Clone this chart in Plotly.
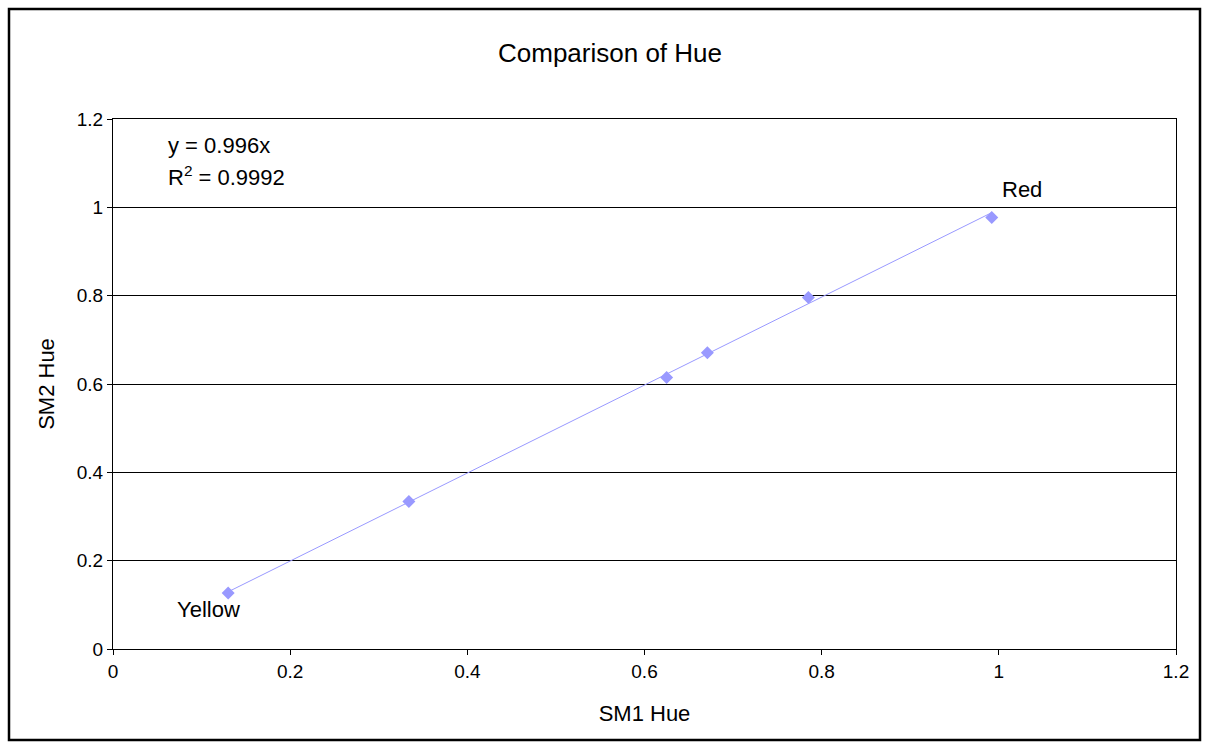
import plotly.graph_objects as go

# SM1 vs SM2 hue measurements
sm1_hue = [0.130, 0.334, 0.625, 0.671, 0.785, 0.992]
sm2_hue = [0.127, 0.334, 0.615, 0.671, 0.796, 0.977]
point_names = ["Yellow", "", "", "", "", "Red"]

# linear fit through the origin
slope = 0.996
r_squared = 0.9992

tick_vals = [0, 0.2, 0.4, 0.6, 0.8, 1, 1.2]
tick_text = ["0", "0.2", "0.4", "0.6", "0.8", "1", "1.2"]

FONT = "Liberation Sans, Arial, sans-serif"
SERIES = "#9999FF"

W, H = 1210, 749
L, R, T, B = 113, 34, 119, 100
PW, PH = W - L - R, H - T - B


def px_x(px):
    return (px - L) / PW


def px_y(py):
    return (H - B - py) / PH


fig = go.Figure()

# trendline over the data range
x0, x1 = min(sm1_hue), max(sm1_hue)
fig.add_trace(go.Scatter(
    x=[x0, x1], y=[slope * x0, slope * x1], mode="lines",
    line=dict(color=SERIES, width=1), hoverinfo="skip", showlegend=False,
))

fig.add_trace(go.Scatter(
    x=sm1_hue, y=sm2_hue, mode="markers",
    marker=dict(symbol="diamond", size=10, color=SERIES, line=dict(width=0)),
    showlegend=False,
))

# point labels, shifted off their markers
label_offsets = {"Yellow": (-20, -17), "Red": (30, 28)}
for xv, yv, name in zip(sm1_hue, sm2_hue, point_names):
    if not name:
        continue
    dx, dy = label_offsets[name]
    fig.add_annotation(x=xv, y=yv, text=name, showarrow=False,
                       xanchor="center", yanchor="middle", xshift=dx, yshift=dy,
                       font=dict(family=FONT, size=22, color="black"))

# fit equation
fig.add_annotation(xref="paper", yref="paper", x=px_x(166), y=px_y(145),
                   xanchor="left", yanchor="middle", showarrow=False,
                   text=f"y = {slope}x", font=dict(family=FONT, size=22, color="black"))
fig.add_annotation(xref="paper", yref="paper", x=px_x(166), y=px_y(176),
                   xanchor="left", yanchor="middle", showarrow=False,
                   text=f"R<sup>2</sup> = {r_squared}", font=dict(family=FONT, size=22, color="black"))

# outer chart border
fig.add_shape(type="rect", xref="paper", yref="paper",
              x0=px_x(9), x1=px_x(1200), y0=px_y(740), y1=px_y(9),
              line=dict(color="black", width=2.5), layer="below")

fig.update_layout(
    width=W, height=H,
    margin=dict(l=L, r=R, t=T, b=B),
    paper_bgcolor="white", plot_bgcolor="white",
    title=dict(text="Comparison of Hue", x=610 / W, xref="container", xanchor="center",
               y=1 - 53 / H, yref="container", yanchor="middle",
               font=dict(family=FONT, size=26, color="black")),
    font=dict(family=FONT, color="black"),
)

fig.update_xaxes(
    title=dict(text="SM1 Hue", standoff=24, font=dict(family=FONT, size=22, color="black")),
    range=[0, 1.2], tickvals=tick_vals, ticktext=tick_text,
    showgrid=False, zeroline=False,
    showline=True, linecolor="black", linewidth=1, mirror=True,
    ticks="outside", ticklen=5, tickcolor="black",
    tickfont=dict(family=FONT, size=19, color="black"),
)
fig.update_yaxes(
    title=dict(text="SM2 Hue", standoff=16, font=dict(family=FONT, size=22, color="black")),
    range=[0, 1.2], tickvals=tick_vals, ticktext=tick_text,
    showgrid=True, gridcolor="black", gridwidth=1, zeroline=False,
    showline=True, linecolor="black", linewidth=1, mirror=True,
    ticks="outside", ticklen=5, tickcolor="black",
    tickfont=dict(family=FONT, size=19, color="black"),
)

fig.write_html("out.html")
